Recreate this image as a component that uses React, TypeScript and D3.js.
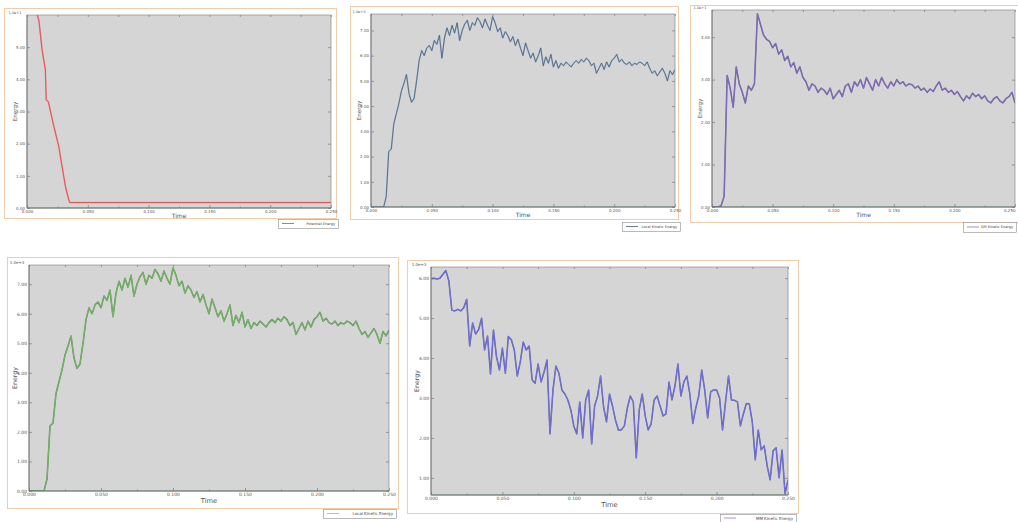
import React, { useEffect, useRef } from "react";
import * as d3 from "d3";

// shared x axis (time)
const xTicks = [0, 0.05, 0.1, 0.15, 0.2, 0.25];
const xTickLabels = ["0.000", "0.050", "0.100", "0.150", "0.200", "0.250"];

// panel 1: potential energy, sampled at irregular times
const potentialTime = [0.0085, 0.0099, 0.0124, 0.0151, 0.0158, 0.0176, 0.022, 0.0261, 0.0288, 0.0316, 0.0343, 0.0352, 0.25];
const potentialEnergy = [6.0, 5.8, 4.92, 4.3, 3.36, 3.3, 2.55, 1.92, 1.3, 0.67, 0.26, 0.17, 0.17];

// panels 2 and 4: local kinetic energy
const localKinetic = [
  0, 0, 0, 0, 0, 0, 0.4, 2.2, 2.3, 3.3, 3.7, 4.1, 4.6, 4.9, 5.25, 4.5, 4.15, 4.3, 5.0, 5.8,
  6.2, 6.0, 6.3, 6.4, 6.2, 6.6, 6.45, 6.8, 5.9, 6.7, 7.1, 6.8, 7.2, 6.9, 7.3, 6.6, 7.0, 7.25, 7.4, 7.0,
  7.3, 7.2, 7.5, 7.35, 7.1, 7.45, 7.2, 7.0, 7.55, 7.3, 6.95, 7.1, 6.7, 6.95, 6.8, 6.55, 6.75, 6.4, 6.65, 6.3,
  6.0, 6.5, 6.2, 5.9, 6.1, 5.75, 6.0, 6.3, 5.6, 5.95, 5.7, 6.05, 5.55, 5.8, 5.5, 5.7, 5.6, 5.75, 5.65, 5.55,
  5.7, 5.8, 5.7, 5.85, 5.75, 5.9, 5.8, 5.6, 5.7, 5.3, 5.5, 5.7, 5.45, 5.75, 5.55, 5.8, 5.9, 6.05, 5.75, 5.85,
  5.7, 5.65, 5.75, 5.6, 5.7, 5.65, 5.75, 5.7, 5.6, 5.75, 5.5, 5.3, 5.4, 5.2, 5.35, 5.5, 5.3, 5.0, 5.4, 5.25,
  5.45,
];

// panel 3: QM kinetic energy
const qmKinetic = [
  0, 0, 0, 0.03, 0.25, 3.1, 2.8, 2.35, 3.3, 2.9, 2.7, 2.45, 2.85, 2.75, 2.9, 4.55, 4.3, 4.05, 3.95, 3.9,
  3.75, 3.85, 3.6, 3.7, 3.45, 3.55, 3.3, 3.4, 3.15, 3.3, 3.05, 2.95, 2.75, 2.9, 2.85, 2.7, 2.8, 2.75, 2.65, 2.8,
  2.55, 2.65, 2.75, 2.6, 2.85, 2.9, 2.7, 2.95, 2.85, 3.0, 2.8, 3.05, 2.9, 2.75, 3.0, 2.85, 3.05, 2.9, 2.8, 2.95,
  2.85, 3.0, 2.9, 2.95, 2.85, 2.9, 2.88, 2.8, 2.85, 2.75, 2.8, 2.7, 2.78, 2.72, 2.85, 2.95, 2.75, 2.8, 2.7, 2.75,
  2.65, 2.72, 2.6, 2.5, 2.62, 2.55, 2.68, 2.6, 2.65, 2.55, 2.62, 2.5, 2.45, 2.55, 2.6, 2.5, 2.45, 2.55, 2.6, 2.7,
  2.45,
];

// panel 5: MM kinetic energy
const mmKinetic = [
  5.99, 6.0, 5.98, 6.0, 6.1, 6.19, 5.93, 5.2, 5.18, 5.22, 5.18, 5.26, 5.47, 4.3, 4.88, 4.6, 4.71, 5.0, 4.2, 4.55,
  3.6, 4.7, 4.04, 3.7, 4.25, 3.62, 4.54, 4.46, 4.2, 3.55, 3.9, 4.4, 4.2, 4.3, 3.45, 3.37, 3.85, 3.4, 3.65, 3.95,
  2.1, 3.2, 3.8, 3.62, 3.2, 3.1, 2.95, 2.7, 2.3, 2.1, 2.9, 2.0, 2.95, 3.2, 1.85, 2.8, 3.05, 3.55, 2.78, 2.4,
  3.1, 2.8, 2.45, 2.2, 2.2, 2.3, 2.75, 3.05, 2.9, 1.5, 2.7, 3.1, 2.55, 2.2, 2.35, 2.95, 3.05, 2.8, 2.55, 2.6,
  3.4, 2.95, 3.3, 3.85, 3.05, 3.4, 3.55, 3.1, 2.36, 2.75, 3.05, 3.7, 3.2, 2.5, 3.15, 3.2, 3.2, 3.0, 2.2, 2.9,
  3.55, 2.95, 2.94, 2.9, 2.3, 2.6, 2.86, 2.85, 2.4, 1.45, 2.2, 1.7, 1.8, 1.3, 0.95, 1.68, 1.75, 1.0, 1.7, 0.6,
  0.95,
];

const uniformTimes = (n: number) => d3.range(n).map(i => (i * 0.25) / (n - 1));

type Box = [number, number, number, number];

type PanelProps = {
  frame: Box;
  plot: Box;
  legend: Box;
  yDomain: [number, number];
  yTicks: number[];
  times: number[];
  values: number[];
  color: string;
  edge: string;
  legendText: string;
  expLabel: string;
  font: number;
  id: string;
  lastLabelEnd?: boolean;
};

function Panel(p: PanelProps) {
  const ref = useRef<SVGGElement>(null);

  useEffect(() => {
    if (!ref.current) return;
    const g = d3.select(ref.current);
    g.selectAll("*").remove();

    const [fx0, fy0, fx1, fy1] = p.frame;
    const [px0, py0, px1, py1] = p.plot;
    const fam = "'DejaVu Sans', sans-serif";

    g.append("rect")
      .attr("x", fx0 + 0.5).attr("y", fy0 + 0.5)
      .attr("width", fx1 - fx0).attr("height", fy1 - fy0)
      .attr("fill", "#fff").attr("stroke", "#f2cba8").attr("stroke-width", 1);

    const x = d3.scaleLinear().domain([0, 0.25]).range([px0, px1]);
    const y = d3.scaleLinear().domain(p.yDomain).range([py1, py0]);

    g.append("rect")
      .attr("x", px0).attr("y", py0)
      .attr("width", px1 - px0).attr("height", py1 - py0)
      .attr("fill", "#d5d5d5");

    g.append("clipPath").attr("id", p.id)
      .append("rect")
      .attr("x", px0).attr("y", py0 - 1)
      .attr("width", px1 - px0).attr("height", py1 - py0 + 1);

    const line = d3.line<number>()
      .x((_, i) => x(p.times[i]))
      .y(d => y(d));

    g.append("path").datum(p.values)
      .attr("d", line).attr("fill", "none")
      .attr("stroke", p.edge).attr("stroke-width", 1.5).attr("stroke-opacity", 0.75)
      .attr("stroke-linejoin", "round")
      .attr("clip-path", `url(#${p.id})`);
    g.append("path").datum(p.values)
      .attr("d", line).attr("fill", "none")
      .attr("stroke", p.color).attr("stroke-width", 0.7)
      .attr("stroke-linejoin", "round")
      .attr("clip-path", `url(#${p.id})`);

    const style = (a: d3.Selection<SVGGElement, unknown, null, undefined>) => {
      a.select(".domain").remove();
      a.selectAll("line").attr("stroke", "#6a6a6a").attr("stroke-width", 0.6);
      a.selectAll("text").attr("fill", "#555").style("font-size", `${p.font}px`).style("font-family", fam);
    };

    const minor = xTicks.slice(1).map((t, i) => (t + xTicks[i]) / 2);

    const xAxis = g.append("g").attr("transform", `translate(0,${py1})`)
      .call(d3.axisBottom(x).tickValues(xTicks).tickSize(-3).tickPadding(2)
        .tickFormat((_, i) => xTickLabels[i]))
      .call(style);
    if (p.lastLabelEnd) {
      xAxis.selectAll<SVGTextElement, number>("text")
        .filter(d => d === xTicks[xTicks.length - 1])
        .attr("text-anchor", "end");
    }
    g.append("g").attr("transform", `translate(0,${py1})`)
      .call(d3.axisBottom(x).tickValues(minor).tickSize(-1.5).tickFormat(() => ""))
      .call(style);
    g.append("g").attr("transform", `translate(0,${py0})`)
      .call(d3.axisTop(x).tickValues(xTicks.concat(minor)).tickSize(-2).tickFormat(() => ""))
      .call(style);
    g.append("g").attr("transform", `translate(${px0},0)`)
      .call(d3.axisLeft(y).tickValues(p.yTicks).tickSize(-3).tickPadding(2)
        .tickFormat(d => (d as number).toFixed(2)))
      .call(style);
    g.append("g").attr("transform", `translate(${px1},0)`)
      .call(d3.axisRight(y).tickValues(p.yTicks).tickSize(-3).tickFormat(() => ""))
      .call(style);

    g.append("rect")
      .attr("x", px0).attr("y", py0)
      .attr("width", px1 - px0).attr("height", py1 - py0)
      .attr("fill", "none").attr("stroke", "#8a8a8a").attr("stroke-width", 0.7);
    g.append("line")
      .attr("x1", px0).attr("x2", px1).attr("y1", py1).attr("y2", py1)
      .attr("stroke", "#5f6f62").attr("stroke-width", 0.9);
    g.append("line")
      .attr("x1", px0).attr("x2", px0).attr("y1", py0).attr("y2", py1)
      .attr("stroke", "#6f6f6f").attr("stroke-width", 0.8);

    g.append("text")
      .attr("x", px0 - 12).attr("y", py0 - 1)
      .attr("text-anchor", "middle")
      .attr("fill", "#555").style("font-size", `${p.font - 0.5}px`).style("font-family", fam)
      .text(p.expLabel);

    g.append("text")
      .attr("x", (px0 + px1) / 2).attr("y", py1 + p.font * 2.6)
      .attr("text-anchor", "middle")
      .attr("fill", "#555").style("font-size", `${p.font * 1.5}px`).style("font-family", fam)
      .text("Time");

    g.append("text")
      .attr("transform", `translate(${px0 - p.font * 2.6},${(py0 + py1) / 2}) rotate(-90)`)
      .attr("text-anchor", "middle")
      .attr("fill", "#555").style("font-size", `${p.font * 1.4}px`).style("font-family", fam)
      .text("Energy");

    const [lx0, ly0, lx1, ly1] = p.legend;
    const lg = g.append("g");
    lg.append("rect")
      .attr("x", lx0 + 0.5).attr("y", ly0 + 0.5)
      .attr("width", lx1 - lx0).attr("height", ly1 - ly0)
      .attr("fill", "#fff").attr("stroke", "#8c8c8c").attr("stroke-width", 0.6);
    lg.append("line")
      .attr("x1", lx0 + 4).attr("x2", lx0 + 16)
      .attr("y1", (ly0 + ly1) / 2).attr("y2", (ly0 + ly1) / 2)
      .attr("stroke", p.color).attr("stroke-width", 0.8);
    lg.append("text")
      .attr("x", lx1 - 3).attr("y", (ly0 + ly1) / 2 + p.font * 0.35)
      .attr("text-anchor", "end")
      .attr("fill", "#444").style("font-size", `${p.font - 0.5}px`).style("font-family", fam)
      .text(p.legendText);
  }, [p]);

  return <g ref={ref} />;
}

export default function App() {
  return (
    <svg
      width={1018}
      height={522}
      style={{ position: "absolute", left: 0, top: 0, background: "#fff" }}
    >
      <Panel
        id="c1"
        frame={[4, 8, 336, 218]}
        plot={[27, 15, 331, 208]}
        legend={[278, 219, 338, 228]}
        yDomain={[0, 6]}
        yTicks={[0, 1, 2, 3, 4, 5]}
        times={potentialTime}
        values={potentialEnergy}
        color="#e8393a"
        edge="#f07a7a"
        legendText="Potential Energy"
        expLabel="1.0e+1"
        font={4}
      />
      <Panel
        id="c2"
        frame={[350, 6, 678, 219]}
        plot={[371, 14, 675, 207]}
        legend={[622, 222, 680, 231]}
        yDomain={[0, 7.65]}
        yTicks={[0, 1, 2, 3, 4, 5, 6, 7]}
        times={uniformTimes(localKinetic.length)}
        values={localKinetic}
        color="#3d5570"
        edge="#8ea8c4"
        legendText="Local Kinetic Energy"
        expLabel="1.0e+3"
        font={4}
      />
      <Panel
        id="c3"
        frame={[690, 5, 1030, 222]}
        plot={[712, 10, 1015, 207]}
        legend={[963, 222, 1016, 232]}
        yDomain={[0, 4.64]}
        yTicks={[0, 1, 2, 3, 4]}
        times={uniformTimes(qmKinetic.length)}
        values={qmKinetic}
        color="#8a6fd0"
        edge="#4b3b80"
        legendText="QM Kinetic Energy"
        expLabel="1.0e+1"
        font={4}
        lastLabelEnd
      />
      <Panel
        id="c4"
        frame={[7, 257, 398, 508]}
        plot={[29, 265, 389, 491]}
        legend={[323, 509, 396, 518]}
        yDomain={[0, 7.65]}
        yTicks={[0, 1, 2, 3, 4, 5, 6, 7]}
        times={uniformTimes(localKinetic.length)}
        values={localKinetic}
        color="#7fd06a"
        edge="#2f6a2a"
        legendText="Local Kinetic Energy"
        expLabel="1.0e+3"
        font={4.5}
      />
      <Panel
        id="c5"
        frame={[407, 260, 798, 513]}
        plot={[431, 267, 788, 495]}
        legend={[720, 514, 796, 522]}
        yDomain={[0.57, 6.28]}
        yTicks={[1, 2, 3, 4, 5, 6]}
        times={uniformTimes(mmKinetic.length)}
        values={mmKinetic}
        color="#7878f4"
        edge="#34349a"
        legendText="MM Kinetic Energy"
        expLabel="1.0e+3"
        font={4.5}
      />
    </svg>
  );
}
